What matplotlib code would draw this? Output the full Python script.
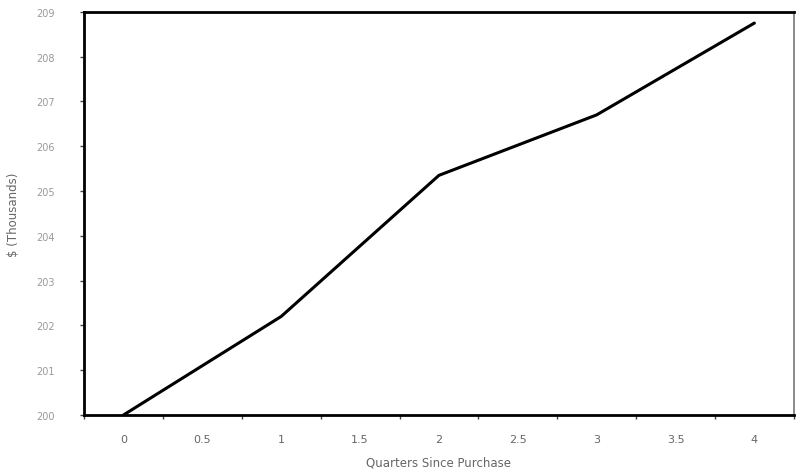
import matplotlib
matplotlib.use("Agg")
import matplotlib.pyplot as plt
import numpy as np

quarters = [0, 1, 2, 3, 4]
values = [200.0, 202.2, 205.35, 206.7, 208.75]
x_tick_labels = ["0", "0.5", "1", "1.5", "2", "2.5", "3", "3.5", "4"]
y_ticks = [200, 201, 202, 203, 204, 205, 206, 207, 208, 209]

fig = plt.figure(figsize=(8.01, 4.77), dpi=100)
ax = fig.add_axes([0.105, 0.128, 0.886, 0.845])

ax.plot(quarters, values, color="black", lw=2.2, solid_capstyle="round")

ax.set_xlim(-0.25, 4.25)
ax.set_ylim(200, 209)

xt = np.arange(0, 4.01, 0.5)
ax.set_xticks(xt)
ax.set_xticklabels(x_tick_labels)
ax.set_xticks(np.arange(-0.25, 4.3, 0.5), minor=True)
ax.tick_params(axis="x", which="major", length=0, pad=14, labelsize=8, labelcolor="#666666")
ax.tick_params(axis="x", which="minor", length=3, width=1, color="#444444", direction="out")

ax.set_yticks(y_ticks)
ax.set_yticklabels([str(v) for v in y_ticks])
ax.tick_params(axis="y", length=3, width=1, color="#444444", pad=18, labelsize=7, labelcolor="#999999")

for s in ["left", "bottom", "top"]:
    ax.spines[s].set_linewidth(2)
    ax.spines[s].set_color("black")
ax.spines["right"].set_linewidth(1.2)
ax.spines["right"].set_color("#777777")

ax.set_xlabel("Quarters Since Purchase", fontsize=8.5, color="#666666", labelpad=8)
ax.set_ylabel("$ (Thousands)", fontsize=8.5, color="#666666", labelpad=12)

fig.savefig("out.png", dpi=100)
